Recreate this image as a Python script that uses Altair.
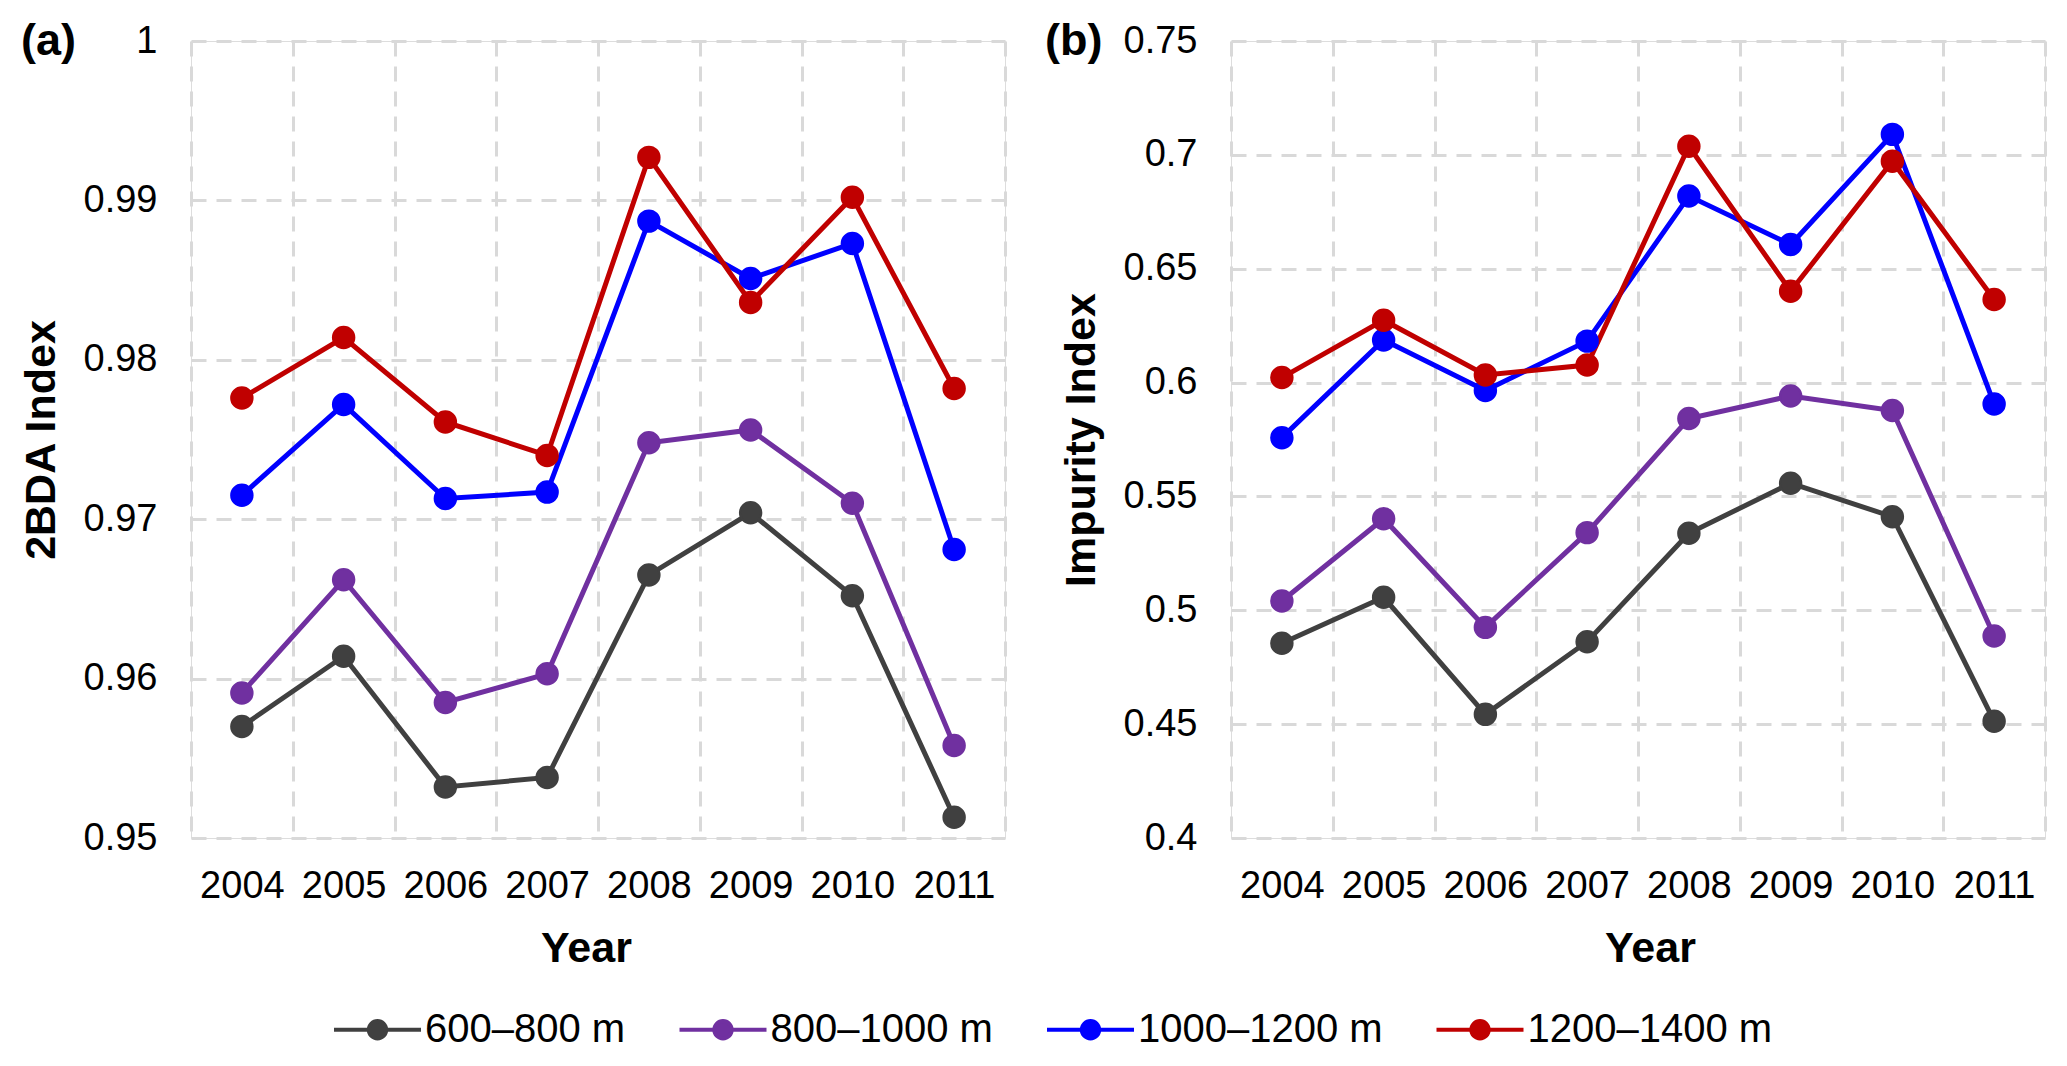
import altair as alt
import pandas as pd

years = ["2004", "2005", "2006", "2007", "2008", "2009", "2010", "2011"]
series = ["600–800 m", "800–1000 m", "1000–1200 m", "1200–1400 m"]
colors = ["#404040", "#7030a0", "#0000ff", "#c00000"]

# (a) 2BDA Index
bda_600_800 = [0.9570, 0.9614, 0.9532, 0.9538, 0.9665, 0.9704, 0.9652, 0.9513]
bda_800_1000 = [0.9591, 0.9662, 0.9585, 0.9603, 0.9748, 0.9756, 0.9710, 0.9558]
bda_1000_1200 = [0.9715, 0.9772, 0.9713, 0.9717, 0.9887, 0.9851, 0.9873, 0.9681]
bda_1200_1400 = [0.9776, 0.9814, 0.9761, 0.9740, 0.9927, 0.9836, 0.9902, 0.9782]

# (b) Impurity Index
imp_600_800 = [0.4855, 0.5057, 0.4543, 0.4862, 0.5338, 0.5558, 0.5411, 0.4513]
imp_800_1000 = [0.5041, 0.5402, 0.4925, 0.5341, 0.5842, 0.5941, 0.5877, 0.4887]
imp_1000_1200 = [0.5758, 0.6187, 0.5965, 0.6182, 0.6819, 0.6606, 0.7090, 0.5906]
imp_1200_1400 = [0.6022, 0.6274, 0.6033, 0.6077, 0.7038, 0.6401, 0.6972, 0.6365]

yticks_a = [0.95, 0.96, 0.97, 0.98, 0.99, 1.0]
yticks_b = [0.4, 0.45, 0.5, 0.55, 0.6, 0.65, 0.7, 0.75]

FONT = "Liberation Sans"


def long_df(lists):
    rows = []
    for s, vals in zip(series, lists):
        for y, v in zip(years, vals):
            rows.append({"year": y, "series": s, "value": v})
    return pd.DataFrame(rows)


df_a = long_df([bda_600_800, bda_800_1000, bda_1000_1200, bda_1200_1400])
df_b = long_df([imp_600_800, imp_800_1000, imp_1000_1200, imp_1200_1400])

cscale = alt.Scale(domain=series, range=colors)

legend = alt.Legend(
    title=None,
    orient="none",
    legendX=141,
    legendY=943,
    direction="horizontal",
    columns=4,
    labelFont=FONT,
    labelFontSize=40,
    labelColor="black",
    labelOffset=2,
    labelLimit=600,
    columnPadding=45.5,
    symbolType="M-1,0L1,0M-0.2,0A0.2,0.2,0,1,0,0.2,0A0.2,0.2,0,1,0,-0.2,0Z",
    symbolSize=7569,
    symbolStrokeWidth=4,
    padding=0,
)


def panel(df, ytitle, domain, ticks, label, title_dx, year_title_x):
    x = alt.X(
        "year:O",
        sort=years,
        bandPosition=0.5,
        scale=alt.Scale(type="band", paddingInner=0, paddingOuter=0),
        axis=alt.Axis(
            title="Year",
            labelAngle=0,
            grid=True,
            tickBand="extent",
            gridDash=[15, 10],
            gridColor="#d9d9d9",
            gridWidth=3,
            ticks=False,
            tickSize=0,
            domain=False,
            labelPadding=29,
            titlePadding=22,
            titleX=year_title_x,
            labelFont=FONT,
            labelFontSize=38,
            labelColor="black",
            titleFont=FONT,
            titleFontSize=43,
            titleFontWeight="bold",
            titleColor="black",
        ),
    )
    y = alt.Y(
        "value:Q",
        scale=alt.Scale(domain=domain, nice=False, zero=False),
        axis=alt.Axis(
            title=ytitle,
            values=ticks,
            format="~g",
            grid=True,
            gridDash=[15, 10],
            gridColor="#d9d9d9",
            gridWidth=3,
            ticks=False,
            tickSize=0,
            domain=False,
            labelPadding=34,
            titlePadding=20,
            labelFont=FONT,
            labelFontSize=38,
            labelColor="black",
            titleFont=FONT,
            titleFontSize=43,
            titleFontWeight="bold",
            titleColor="black",
        ),
    )
    base = alt.Chart(df).encode(x=x, y=y)
    lines = base.mark_line(strokeWidth=5).encode(
        stroke=alt.Stroke("series:N", scale=cscale, legend=legend, sort=series),
        detail="series:N",
    )
    pts = base.mark_point(filled=True, size=460, opacity=1).encode(
        fill=alt.Fill("series:N", scale=cscale, legend=legend, sort=series),
        stroke=alt.Stroke("series:N", scale=cscale, legend=legend, sort=series),
    )
    return alt.layer(lines, pts).properties(
        width=814,
        height=797,
        title=alt.TitleParams(
            label,
            anchor="start",
            frame="group",
            dx=title_dx,
            dy=64,
            offset=0,
            baseline="middle",
            font=FONT,
            fontSize=45,
            fontWeight="bold",
            color="black",
        ),
    )


pa = panel(df_a, "2BDA Index", [0.95, 1.0], yticks_a, "(a)", -170, 395)
pb = panel(df_b, "Impurity Index", [0.4, 0.75], yticks_b, "(b)", -186, 419)

chart = (
    alt.hconcat(pa, pb, spacing=38)
    .resolve_scale(y="independent", fill="shared", stroke="shared")
    .properties(padding={"left": 11, "top": 10, "right": 5, "bottom": 0})
    .configure_view(stroke="black", strokeWidth=2.5)
    .configure(background="white")
)

chart.save("out.html", embed_options={"renderer": "svg", "actions": False})
